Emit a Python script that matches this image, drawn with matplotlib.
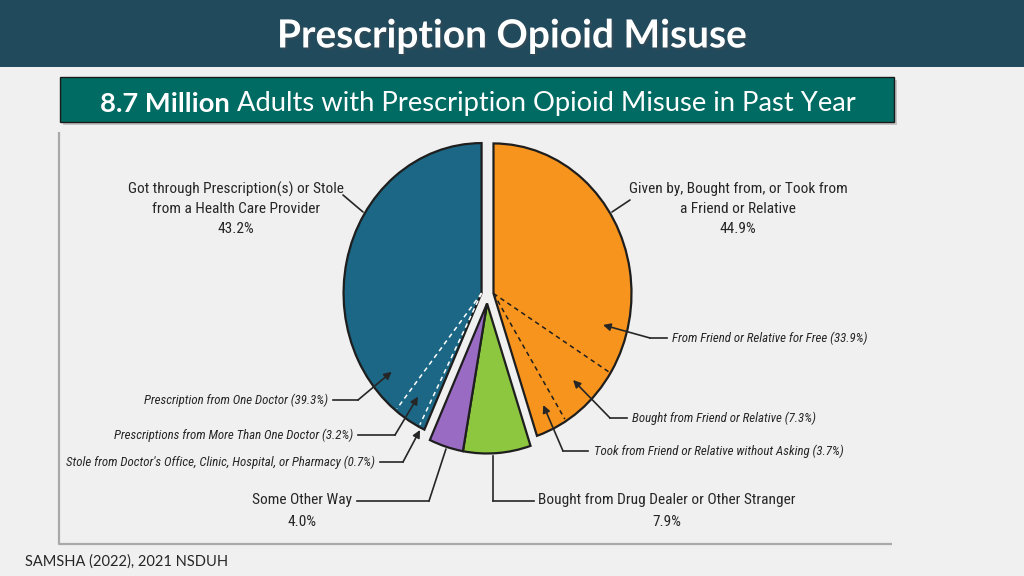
import matplotlib
matplotlib.use("Agg")
import matplotlib.pyplot as plt
import numpy as np
from matplotlib import font_manager as fm
from matplotlib.patches import Rectangle
import matplotlib.patheffects as pe

# ---------------- data ----------------
title = "Prescription Opioid Misuse"
subtitle_bold = "8.7 Million"
subtitle_rest = " Adults with Prescription Opioid Misuse in Past Year"
source = "SAMSHA (2022), 2021 NSDUH"

main_labels = [["Given by, Bought from, or Took from", "a Friend or Relative"],
               ["Bought from Drug Dealer or Other Stranger"],
               ["Some Other Way"],
               ["Got through Prescription(s) or Stole", "from a Health Care Provider"]]
main_values = [44.9, 7.9, 4.0, 43.2]
main_colors = ["#F7941D", "#8DC63F", "#9A6BC3", "#1B6785"]

friend_sub_labels = ["From Friend or Relative for Free",
                     "Bought from Friend or Relative",
                     "Took from Friend or Relative without Asking"]
friend_sub_values = [33.9, 7.3, 3.7]

provider_sub_labels = ["Stole from Doctor's Office, Clinic, Hospital, or Pharmacy",
                       "Prescriptions from More Than One Doctor",
                       "Prescription from One Doctor"]
provider_sub_values = [0.7, 3.2, 39.3]

# ---------------- fonts ----------------
entries = fm.fontManager.ttflist
names = {f.name for f in entries}
NARROW, STRETCH = None, "normal"
for cand in ["Liberation Sans Narrow", "Roboto Condensed", "Open Sans Condensed",
             "DejaVu Sans Condensed", "Noto Sans Condensed", "Arial Narrow"]:
    if cand in names:
        NARROW = cand
        break
if NARROW is None:
    for fam in ["Roboto", "Noto Sans", "DejaVu Sans", "Open Sans"]:
        if any(f.name == fam and str(f.stretch) in ("condensed", "semi-condensed", "extra-condensed", "ultra-condensed")
               for f in entries):
            NARROW, STRETCH = fam, "condensed"
            break
if NARROW is None:
    NARROW = "Roboto" if "Roboto" in names else "DejaVu Sans"
HEAD = "Lato" if "Lato" in names else "DejaVu Sans"

W, H = 1024, 576
fig = plt.figure(figsize=(W / 100, H / 100), dpi=100, facecolor="#F0F0F0")
renderer = fig.canvas.get_renderer()

def fit(artists, widths, extra=1.0):
    """one common font size for a group of texts, matching the reference widths"""
    scales = []
    for a, w in zip(artists, widths):
        bb = a.get_window_extent(renderer)
        scales.append(w / bb.width * a.get_fontsize())
    return float(np.median(scales)) * extra

bg = fig.add_axes([0, 0, 1, 1])
bg.set_xlim(0, W); bg.set_ylim(H, 0); bg.axis("off")

# header
bg.add_patch(Rectangle((0, 0), W, 67, color="#214A5D", lw=0))
tt = bg.text(512, 36, title, ha="center", va="center", color="white",
             fontsize=26, fontweight="bold", family=HEAD,
             path_effects=[pe.withSimplePatchShadow(offset=(1.5, -1.5), alpha=0.35)])
tt.set_fontsize(fit([tt], [470]))

# subtitle box
bg.add_patch(Rectangle((63, 80), 834, 45, color="#9a9a9a", alpha=0.5, lw=0))
bg.add_patch(Rectangle((60, 77), 834, 45, facecolor="#006B63", edgecolor="#1a1a1a", lw=1))
tb = bg.text(100, 111, subtitle_bold, ha="left", va="bottom", color="white",
             fontsize=17, fontweight="bold", family=HEAD)
tr = bg.annotate(subtitle_rest, xy=(1, 0), xycoords=tb, ha="left", va="bottom",
                 color="white", fontsize=17, family=HEAD)
sb = tb.get_window_extent(renderer).width + tr.get_window_extent(renderer).width
s_sub = 17 * 755 / sb
tb.set_fontsize(s_sub); tr.set_fontsize(s_sub)
tb.set_y(100 + s_sub * 100 / 72 * 0.6)

# panel borders
bg.plot([59, 59, 892], [132, 544, 544], color="#A9A9A9", lw=1.6, solid_capstyle="butt")

# footer
bg.text(25, 562, source, ha="left", va="center", color="#262626", fontsize=10.5, family=HEAD)

# ---------------- pie ----------------
cx, cy, rx, ry = 487.5, 294.5, 138, 150
pax = fig.add_axes([(cx - 1.25 * rx) / W, (H - cy - 1.25 * ry) / H, 2.5 * rx / W, 2.5 * ry / H])
pax.patch.set_visible(False)
edge = "#1e1e1e"
wedges, _ = pax.pie(main_values, colors=main_colors, startangle=90, counterclock=False,
                    explode=[0.044, 0, 0, 0.044],
                    wedgeprops=dict(edgecolor=edge, linewidth=1.6, joinstyle="miter"))
pax.set_aspect("auto")
pax.set_xlim(-1.25, 1.25); pax.set_ylim(-1.25, 1.25)
pax.axis("off")

tot = sum(main_values)
bounds = 90 - 360 * np.concatenate([[0], np.cumsum(main_values)]) / tot
grp_mid = np.deg2rad((bounds[1] + bounds[3]) / 2)
for w in wedges[1:3]:
    w.set_center((0.06 * np.cos(grp_mid), 0.06 * np.sin(grp_mid)))

def dividers(center, start, subs, color):
    angs = start - 360 * np.cumsum(subs)[:-1] / tot
    for a in angs:
        r = np.deg2rad(a)
        pax.plot([center[0], center[0] + 0.985 * np.cos(r)],
                 [center[1], center[1] + 0.985 * np.sin(r)],
                 color=color, lw=1.1, ls=(0, (3, 2.5)))

dividers(wedges[0].center, bounds[0], friend_sub_values, edge)
dividers(wedges[3].center, bounds[3], provider_sub_values, "white")

# ---------------- labels & leaders ----------------
fg = fig.add_axes([0, 0, 1, 1])
fg.set_xlim(0, W); fg.set_ylim(H, 0); fg.axis("off")
tc = "#262626"
lw_lead = 1.2

def pct(v):
    return f"{v:.1f}%"

# big labels: (index, center x, first-line y, line spacing)
big_layout = [(3, 236, 189, 19.8), (0, 738, 189, 20), (2, 301.5, 500, 22.5), (1, 667, 500, 22.5)]
big_widths = [208, 210, 97, 255]
big_texts = []
first_lines = []
for (i, x, y0, dy) in big_layout:
    lines = main_labels[i] + [pct(main_values[i])]
    for k, line in enumerate(lines):
        t = fg.text(x, y0 + k * dy, line, ha="center", va="center", fontsize=10.5,
                    family=NARROW, fontstretch=STRETCH, color=tc)
        big_texts.append(t)
        if k == 0:
            first_lines.append(t)
s_big = fit(first_lines, big_widths, extra=1.04)
for t in big_texts:
    t.set_fontsize(s_big)

def line_to(p_start, tip):
    fg.annotate("", xy=tip, xycoords=pax.transData, xytext=p_start, textcoords=fg.transData,
                arrowprops=dict(arrowstyle="-", color=tc, lw=lw_lead, shrinkA=0, shrinkB=0))

line_to((343, 195), (-0.902, 0.550))
line_to((630, 200), (0.902, 0.550))

# some other way / drug dealer leaders
fg.plot([357, 429], [501, 501], color=tc, lw=lw_lead)
line_to((429, 501), (-0.301, -1.030))
fg.plot([534, 493], [501, 501], color=tc, lw=lw_lead)
line_to((493, 501), (0.040, -1.075))

small = []
def arrow_label(text, tx, ty, ha, x0, x1, tip):
    small.append(fg.text(tx, ty, text, ha=ha, va="center", fontsize=9, style="italic",
                         family=NARROW, fontstretch=STRETCH, color=tc))
    fg.plot([x0, x1], [ty, ty], color=tc, lw=lw_lead)
    fg.annotate("", xy=tip, xycoords=pax.transData, xytext=(x1, ty), textcoords=fg.transData,
                arrowprops=dict(arrowstyle="-|>", color=tc, lw=lw_lead, shrinkA=0, shrinkB=0,
                                mutation_scale=11))

# right side (friend/relative)
arrow_label(f"{friend_sub_labels[0]} ({pct(friend_sub_values[0])})", 672, 338, "left", 667, 650, (0.837, -0.203))
arrow_label(f"{friend_sub_labels[1]} ({pct(friend_sub_values[1])})", 632, 418, "left", 627, 610, (0.620, -0.570))
arrow_label(f"{friend_sub_labels[2]} ({pct(friend_sub_values[2])})", 594, 451, "left", 588, 563, (0.404, -0.737))
# left side (provider)
arrow_label(f"{provider_sub_labels[2]} ({pct(provider_sub_values[2])})", 328, 400, "right", 333, 358, (-0.694, -0.515))
arrow_label(f"{provider_sub_labels[1]} ({pct(provider_sub_values[1])})", 353, 435, "right", 358, 395, (-0.504, -0.681))
arrow_label(f"{provider_sub_labels[0]} ({pct(provider_sub_values[0])})", 375, 462, "right", 380, 403, (-0.489, -0.903))
s_small = fit(small, [193, 180, 241, 181, 233, 302], extra=1.03)
for t in small:
    t.set_fontsize(s_small)

fig.savefig("out.png", dpi=100, facecolor=fig.get_facecolor())
